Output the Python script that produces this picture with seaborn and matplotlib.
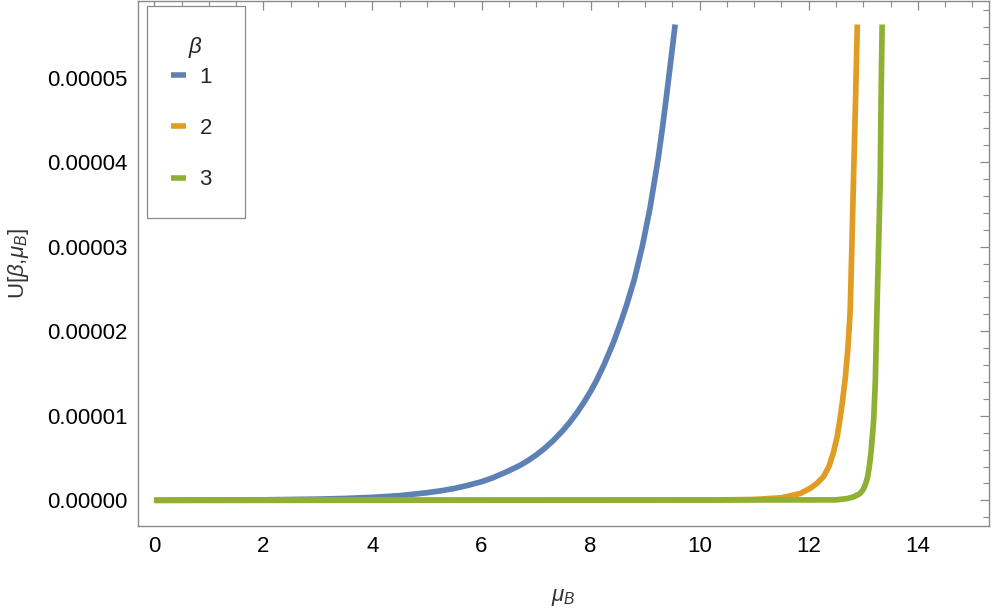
import numpy as np
import pandas as pd
import matplotlib
matplotlib.use("Agg")
import matplotlib.pyplot as plt
from matplotlib.patches import Rectangle
from matplotlib.ticker import MultipleLocator, FuncFormatter
import seaborn as sns

# ---- data (y in units of 1e-5) ----
beta1_x = [0, 1, 2, 3, 3.5, 4, 4.5, 5, 5.25, 5.5, 5.75, 6, 6.2, 6.4, 6.55, 6.71, 6.85, 7, 7.15,
           7.32, 7.5, 7.62, 7.75, 7.88, 8, 8.11, 8.25, 8.42, 8.55, 8.66, 8.8, 8.95, 9.09, 9.24,
           9.32, 9.40, 9.48, 9.55]
beta1_y = [0.001, 0.002, 0.0055, 0.014, 0.022, 0.035, 0.055, 0.09, 0.112, 0.14, 0.177, 0.22, 0.265,
           0.32, 0.365, 0.415, 0.469, 0.535, 0.611, 0.71, 0.832, 0.925, 1.036, 1.162, 1.29, 1.42,
           1.61, 1.87, 2.10, 2.31, 2.61, 3.01, 3.46, 4.05, 4.42, 4.83, 5.25, 5.63]

beta2_x = [0, 10, 11, 11.5, 11.84, 12.02, 12.15, 12.27, 12.37, 12.45, 12.52, 12.57, 12.62, 12.67,
           12.72, 12.76, 12.79, 12.82, 12.86, 12.89]
beta2_y = [0, 0.002, 0.01, 0.03, 0.08, 0.14, 0.20, 0.28, 0.40, 0.56, 0.75, 0.95, 1.18, 1.45,
           1.82, 2.25, 3.0, 3.79, 4.8, 5.63]

beta3_x = [0, 12.5, 12.70, 12.82, 12.94, 13.0, 13.04, 13.08, 13.11, 13.14, 13.17, 13.19, 13.22,
           13.25, 13.28, 13.31, 13.325, 13.345]
beta3_y = [0, 0.005, 0.02, 0.04, 0.08, 0.13, 0.19, 0.28, 0.40, 0.56, 0.79, 0.95, 1.4,
           2.25, 3.0, 3.79, 4.7, 5.63]

betas = ["1", "2", "3"]
colors = ["#5E81B5", "#E19C24", "#8FB032"]

x_ticks = [0, 2, 4, 6, 8, 10, 12, 14]
y_ticks = [0, 1e-5, 2e-5, 3e-5, 4e-5, 5e-5]

rows = []
for b, xs, ys in zip(betas, [beta1_x, beta2_x, beta3_x], [beta1_y, beta2_y, beta3_y]):
    for xv, yv in zip(xs, ys):
        rows.append({"mu": xv, "U": yv * 1e-5, "beta": b})
df = pd.DataFrame(rows)

sns.set_theme(style="white")
plt.rcParams["font.family"] = ["Liberation Sans", "DejaVu Sans"]
plt.rcParams["mathtext.fontset"] = "custom"
plt.rcParams["mathtext.rm"] = "Liberation Sans"
plt.rcParams["mathtext.it"] = "Liberation Sans:italic"

W, H = 997, 613
AX_L, AX_R, AX_T, AX_B = 137.7, 989.3, 0.5, 526.0
fig = plt.figure(figsize=(W / 100, H / 100), dpi=100)
ax = fig.add_axes([AX_L / W, (H - AX_B) / H, (AX_R - AX_L) / W, (AX_B - AX_T) / H])

sns.lineplot(data=df, x="mu", y="U", hue="beta", palette=colors, estimator=None,
             sort=False, linewidth=4.1, ax=ax, solid_capstyle="butt")

ax.set_xlim(-0.304, 15.31)
ax.set_ylim(-0.304e-5, 5.914e-5)
ax.set_xticks(x_ticks)
ax.set_yticks(y_ticks)
ax.xaxis.set_minor_locator(MultipleLocator(0.5))
ax.yaxis.set_minor_locator(MultipleLocator(2e-6))
ax.yaxis.set_major_formatter(FuncFormatter(lambda v, p: f"{v:.5f}"))
ax.xaxis.set_major_formatter(FuncFormatter(lambda v, p: f"{v:g}"))

gray = "#8a8a8a"
for s in ax.spines.values():
    s.set_color(gray)
    s.set_linewidth(1.0)
ax.tick_params(which="both", direction="in", top=True, right=True, color=gray,
               labelsize=16, labelcolor="black", pad=7)
ax.tick_params(which="major", length=6.5, width=0.9)
ax.tick_params(which="minor", length=4, width=0.8)

ax.set_xlabel(r"$\mu_B$", fontsize=16, color="#333333", labelpad=22)
ax.set_ylabel(r"U[$\beta$,$\mu_B$]", fontsize=16, color="#333333", labelpad=12)

axw, axh = AX_R - AX_L, AX_B - AX_T
def ax_x(px):
    return (px - AX_L) / axw
def ax_y(py):
    return 1 - (py - AX_T) / axh

# legend frame (Mathematica-style box)
ax.add_patch(Rectangle((ax_x(146.7), ax_y(218)), (245 - 146.7) / axw, (218 - 6) / axh,
                       transform=ax.transAxes, facecolor="white", edgecolor=gray,
                       linewidth=0.9, zorder=4))
ax.text(ax_x(195), ax_y(47), r"$\beta$", transform=ax.transAxes, fontsize=16,
        ha="center", va="center", color="#222222", zorder=6)

handles, labels = ax.get_legend_handles_labels()
leg = ax.legend(handles, labels, loc="upper left",
                bbox_to_anchor=(ax_x(171), ax_y(67)), fontsize=16,
                frameon=False, handlelength=0.68, handletextpad=0.6, labelspacing=1.36,
                borderpad=0, borderaxespad=0)
leg.set_zorder(5)
for h in leg.get_lines():
    h.set_linewidth(4.0)

fig.savefig("out.png", dpi=100)
